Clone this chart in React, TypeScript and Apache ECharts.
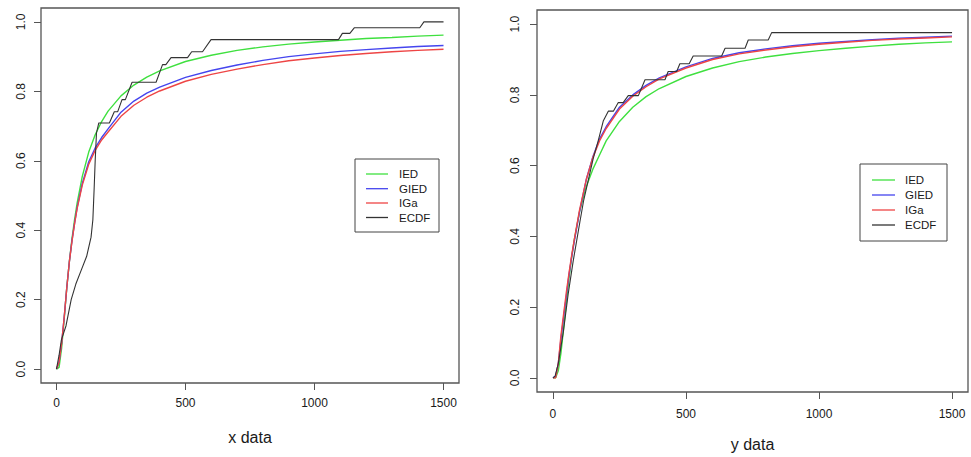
import React, { useEffect, useRef } from "react";
import * as echarts from "echarts";

// shared x grid for the fitted curves
const curveX = [0, 10, 20, 30, 40, 50, 60, 70, 80, 100, 125, 150, 175, 200, 250, 300, 350, 400, 500, 600, 700, 800, 900, 1000, 1100, 1200, 1300, 1400, 1500];

// left panel (x data)
const iedLeft = [0, 0.005, 0.06, 0.145, 0.235, 0.31, 0.375, 0.43, 0.478, 0.555, 0.625, 0.675, 0.713, 0.743, 0.787, 0.818, 0.841, 0.859, 0.886, 0.904, 0.918, 0.928, 0.936, 0.942, 0.947, 0.952, 0.955, 0.959, 0.962];
const giedLeft = [0, 0.02, 0.075, 0.15, 0.235, 0.31, 0.37, 0.42, 0.465, 0.535, 0.597, 0.637, 0.667, 0.692, 0.74, 0.772, 0.795, 0.812, 0.84, 0.86, 0.876, 0.889, 0.9, 0.908, 0.915, 0.92, 0.925, 0.929, 0.932];
const igaLeft = [0, 0.02, 0.075, 0.15, 0.235, 0.31, 0.368, 0.418, 0.462, 0.53, 0.59, 0.63, 0.66, 0.683, 0.728, 0.76, 0.783, 0.801, 0.829, 0.849, 0.864, 0.877, 0.888, 0.896, 0.903, 0.909, 0.914, 0.918, 0.921];
const ecdfLeftX = [0, 10, 19, 37, 57, 75, 96, 117, 134, 141, 146, 150, 155, 164, 205, 224, 237, 254, 267, 293, 386, 411, 424, 444, 508, 524, 566, 599, 1093, 1108, 1137, 1154, 1408, 1424, 1500];
const ecdfLeftY = [0, 0.04, 0.084, 0.125, 0.2, 0.245, 0.285, 0.325, 0.38, 0.43, 0.52, 0.6, 0.68, 0.709, 0.709, 0.741, 0.741, 0.776, 0.776, 0.826, 0.826, 0.877, 0.877, 0.897, 0.897, 0.914, 0.914, 0.949, 0.949, 0.967, 0.967, 0.983, 0.983, 1.0, 1.0];

// right panel (y data)
const iedRight = [0, 0.0, 0.02, 0.07, 0.14, 0.21, 0.28, 0.34, 0.39, 0.47, 0.54, 0.59, 0.63, 0.67, 0.725, 0.765, 0.795, 0.818, 0.852, 0.876, 0.894, 0.907, 0.917, 0.925, 0.932, 0.938, 0.943, 0.947, 0.95];
const giedRight = [0, 0.005, 0.04, 0.11, 0.17, 0.23, 0.29, 0.34, 0.385, 0.47, 0.56, 0.625, 0.675, 0.71, 0.765, 0.8, 0.827, 0.848, 0.879, 0.903, 0.919, 0.93, 0.939, 0.946, 0.951, 0.956, 0.96, 0.963, 0.966];
const igaRight = [0, 0.0, 0.04, 0.12, 0.18, 0.24, 0.295, 0.345, 0.39, 0.475, 0.56, 0.623, 0.67, 0.705, 0.76, 0.796, 0.823, 0.845, 0.876, 0.9, 0.916, 0.927, 0.936, 0.943, 0.949, 0.954, 0.958, 0.961, 0.964];
const ecdfRightX = [0, 8, 20, 39, 57, 76, 101, 115, 127, 151, 170, 189, 208, 227, 245, 264, 283, 321, 346, 421, 433, 465, 477, 512, 527, 634, 647, 722, 734, 809, 822, 1500];
const ecdfRightY = [0, 0.005, 0.04, 0.13, 0.236, 0.33, 0.44, 0.5, 0.54, 0.619, 0.67, 0.726, 0.754, 0.754, 0.778, 0.778, 0.798, 0.798, 0.843, 0.843, 0.866, 0.866, 0.888, 0.888, 0.91, 0.91, 0.932, 0.932, 0.955, 0.955, 0.976, 0.976];

const xTicks = [0, 500, 1000, 1500];
const yTicks = [0, 0.2, 0.4, 0.6, 0.8, 1.0];
const legendNames = ["IED", "GIED", "IGa", "ECDF"];
const axisTitles = ["x data", "y data"];

const COLORS: Record<string, string> = { IED: "#3fe03f", GIED: "#4545ee", IGa: "#ee4545", ECDF: "#333333" };
const FONT = "'Liberation Sans', Arial, Helvetica, sans-serif";
const TEXT = "#1a1a1a";

const pairs = (xs: number[], ys: number[]) => xs.map((x, i) => [x, ys[i]]);

function xAxisCfg(gridIndex: number, name: string, nameGap: number, margin: number) {
  return {
    type: "value", gridIndex, min: -60, max: 1560, name, nameLocation: "middle", nameGap,
    nameTextStyle: { fontSize: 16, color: TEXT, fontFamily: FONT },
    axisLine: { show: false, onZero: false }, splitLine: { show: false },
    axisTick: { show: true, inside: false, customValues: xTicks, length: 7, lineStyle: { color: "#555", width: 1 } },
    axisLabel: { customValues: xTicks, fontSize: 12, color: TEXT, margin, fontFamily: FONT, formatter: (v: number) => String(Math.round(v)) },
  };
}
function yAxisCfg(gridIndex: number, margin: number) {
  return {
    type: "value", gridIndex, min: -0.04, max: 1.04,
    axisLine: { show: false, onZero: false }, splitLine: { show: false },
    axisTick: { show: true, inside: false, customValues: yTicks, length: 7, lineStyle: { color: "#555", width: 1 } },
    axisLabel: { customValues: yTicks, rotate: 90, fontSize: 12, color: TEXT, margin, fontFamily: FONT, formatter: (v: number) => v.toFixed(1) },
  };
}
function lineSeries(name: string, idx: number, data: number[][], width: number) {
  return {
    type: "line", name, xAxisIndex: idx, yAxisIndex: idx, data, showSymbol: false, smooth: false,
    lineStyle: { color: COLORS[name], width }, itemStyle: { color: COLORS[name] }, silent: true,
  };
}
function legendGraphic(bx: number, by: number, bw: number, bh: number, rowY: number[], lx1: number, lx2: number, tx: number) {
  const children: any[] = [
    { type: "rect", shape: { x: bx, y: by, width: bw, height: bh }, style: { fill: "#fff", stroke: "#444", lineWidth: 1 } },
  ];
  legendNames.forEach((n, i) => {
    children.push({ type: "line", shape: { x1: lx1, y1: rowY[i], x2: lx2, y2: rowY[i] }, style: { stroke: COLORS[n], lineWidth: 1.3 } });
    children.push({ type: "text", x: tx, y: rowY[i], style: { text: n, fill: TEXT, font: `11.5px ${FONT}`, verticalAlign: "middle" } });
  });
  return { type: "group", children };
}

export default function App() {
  const ref = useRef<HTMLDivElement>(null);
  useEffect(() => {
    const chart = echarts.init(ref.current!, null, { renderer: "svg" });
    chart.setOption({
      animation: false,
      backgroundColor: "#fff",
      grid: [
        { left: 41, top: 8, width: 418, height: 375, show: true, borderColor: "#555", borderWidth: 1.3, backgroundColor: "transparent" },
        { left: 537, top: 10, width: 431, height: 385, show: true, borderColor: "#555", borderWidth: 1.3, backgroundColor: "transparent" },
      ],
      xAxis: [xAxisCfg(0, axisTitles[0], 46, 14), xAxisCfg(1, axisTitles[1], 44, 16)],
      yAxis: [yAxisCfg(0, 14), yAxisCfg(1, 16)],
      series: [
        lineSeries("IED", 0, pairs(curveX, iedLeft), 1.4),
        lineSeries("GIED", 0, pairs(curveX, giedLeft), 1.4),
        lineSeries("IGa", 0, pairs(curveX, igaLeft), 1.4),
        lineSeries("ECDF", 0, pairs(ecdfLeftX, ecdfLeftY), 1.1),
        lineSeries("IED", 1, pairs(curveX, iedRight), 1.4),
        lineSeries("GIED", 1, pairs(curveX, giedRight), 1.4),
        lineSeries("IGa", 1, pairs(curveX, igaRight), 1.4),
        lineSeries("ECDF", 1, pairs(ecdfRightX, ecdfRightY), 1.1),
      ],
      graphic: [
        legendGraphic(355, 159, 84, 73, [174, 188.7, 203, 217.5], 366, 388, 399),
        legendGraphic(860, 164, 87, 77, [180, 195, 210, 225], 872, 895, 905),
      ],
    });
    return () => chart.dispose();
  }, []);
  return <div ref={ref} style={{ position: "absolute", left: 0, top: 0, width: 971, height: 457, background: "#fff" }} />;
}
